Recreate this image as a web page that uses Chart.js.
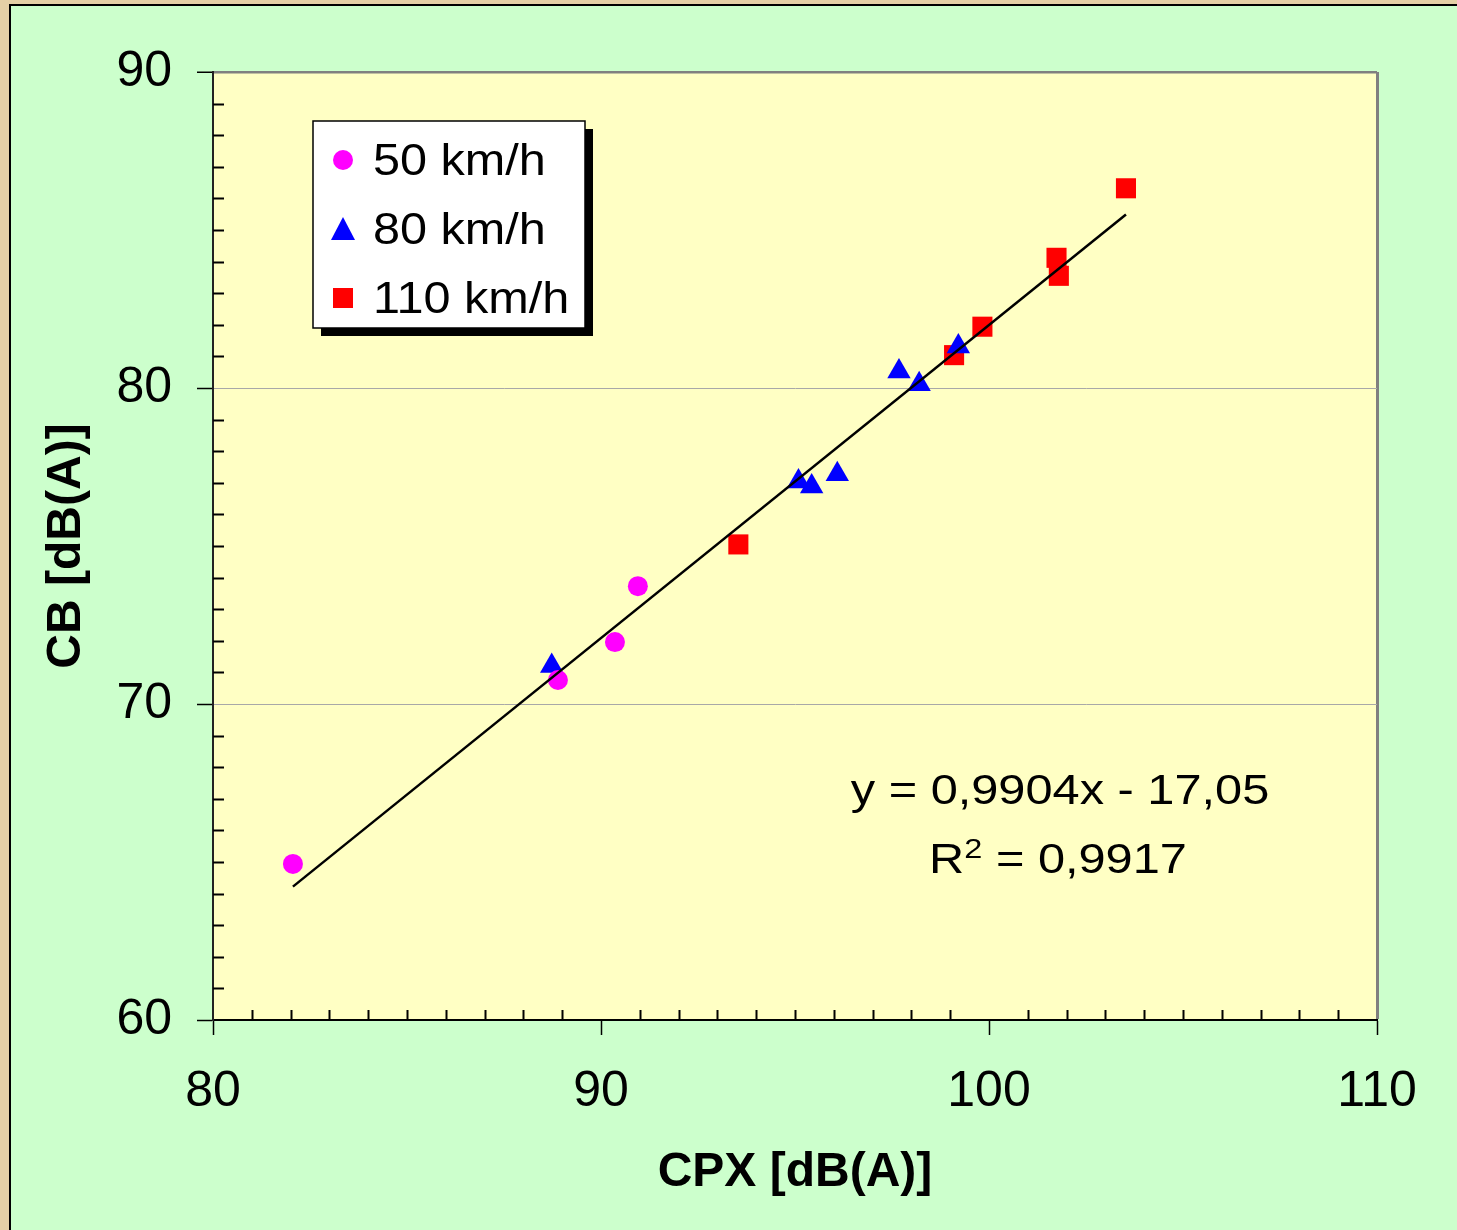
<!DOCTYPE html>
<html>
<head>
<meta charset="utf-8">
<script src="https://cdn.jsdelivr.net/npm/chart.js@4.4.0/dist/chart.umd.min.js"></script>
<style>
  html, body { margin: 0; padding: 0; background: #e4d0a6; }
  canvas { display: block; }
</style>
</head>
<body>
<canvas id="cpxChart" width="1457" height="1230"></canvas>
<script>
const cpx50 = [82.06, 88.89, 90.36, 90.95]
const cb50 = [64.94, 70.76, 71.96, 73.73]

const cpx80 = [88.73, 95.09, 95.43, 96.09, 97.68, 98.20, 99.21]
const cb80 = [71.20, 77.04, 76.88, 77.27, 80.52, 80.12, 81.31]

const cpx110 = [93.54, 99.10, 99.83, 101.74, 101.80, 103.53]
const cb110 = [75.05, 81.04, 81.94, 84.12, 83.55, 86.32]

// regression line end points
const trendX = [82.06, 103.53]
const trendY = [64.22, 85.49]

const seriesLabels = ['50 km/h', '80 km/h', '110 km/h']
const xTicks = [80, 90, 100, 110]
const yTicks = [60, 70, 80, 90]
const equationText = 'y = 0,9904x - 17,05'
const r2Text = ' = 0,9917'

const FONT = "'Liberation Sans', Arial, sans-serif"

const toPoints = (xs, ys) => xs.map((x, i) => ({ x, y: ys[i] }))

// Backgrounds: outer frame, green panel, yellow plot area
const backgroundPlugin = {
  id: 'backgroundPlugin',
  beforeDraw(chart) {
    const { ctx, chartArea } = chart
    ctx.save()
    ctx.fillStyle = '#e4d0a6'
    ctx.fillRect(0, 0, chart.width, chart.height)
    ctx.fillStyle = '#ccffcc'
    ctx.fillRect(10, 5, chart.width, chart.height)
    ctx.strokeStyle = '#000'
    ctx.lineWidth = 2
    ctx.beginPath()
    ctx.moveTo(10, chart.height)
    ctx.lineTo(10, 5)
    ctx.lineTo(chart.width, 5)
    ctx.stroke()
    ctx.fillStyle = '#ffffc4'
    ctx.fillRect(chartArea.left, chartArea.top, chartArea.right - chartArea.left, chartArea.bottom - chartArea.top)
    ctx.restore()
  },
}

// Minor ticks inside the plot, one per unit
const minorTicks = {
  id: 'minorTicks',
  afterDraw(chart) {
    const { ctx, chartArea } = chart
    const xs = chart.scales.x
    const ys = chart.scales.y
    ctx.save()
    ctx.strokeStyle = '#000'
    ctx.lineWidth = 2
    ctx.beginPath()
    for (let v = 61; v < 90; v++) {
      if (v % 10 === 0) continue
      const py = Math.round(ys.getPixelForValue(v)) + 0.5
      ctx.moveTo(chartArea.left, py)
      ctx.lineTo(chartArea.left + 11, py)
    }
    for (let v = 81; v < 110; v++) {
      if (v % 10 === 0) continue
      const px = Math.round(xs.getPixelForValue(v)) + 0.5
      ctx.moveTo(px, chartArea.bottom)
      ctx.lineTo(px, chartArea.bottom - 10)
    }
    ctx.stroke()
    ctx.restore()
  },
}

// text drawn a bit wider than the font, like the original
const wideText = (ctx, text, x, y, sx) => {
  ctx.save()
  ctx.translate(x, y)
  ctx.scale(sx, 1)
  ctx.fillText(text, 0, 0)
  ctx.restore()
}

// Legend box with drop shadow + regression text
const legendAndText = {
  id: 'legendAndText',
  afterDraw(chart) {
    const { ctx } = chart
    ctx.save()

    // legend
    const bx = 313, by = 121, bw = 272, bh = 207
    ctx.fillStyle = '#000'
    ctx.fillRect(bx + 8, by + 8, bw, bh)
    ctx.fillStyle = '#fff'
    ctx.fillRect(bx, by, bw, bh)
    ctx.strokeStyle = '#000'
    ctx.lineWidth = 1.5
    ctx.strokeRect(bx, by, bw, bh)

    const rows = [160, 229, 298]
    const colors = ['#ff00ff', '#0000ff', '#ff0000']
    rows.forEach((ry, i) => {
      ctx.fillStyle = colors[i]
      ctx.beginPath()
      if (i === 0) {
        ctx.arc(343, ry, 10, 0, Math.PI * 2)
      } else if (i === 1) {
        ctx.moveTo(343, ry - 12)
        ctx.lineTo(355, ry + 11)
        ctx.lineTo(331, ry + 11)
        ctx.closePath()
      } else {
        ctx.rect(333, ry - 10, 20, 20)
      }
      ctx.fill()

      ctx.fillStyle = '#000'
      ctx.font = `45px ${FONT}`
      ctx.textAlign = 'left'
      ctx.textBaseline = 'alphabetic'
      wideText(ctx, seriesLabels[i], 373, ry + 15, 1.08)
    })

    // regression equation
    const sx = 1.16
    ctx.fillStyle = '#000'
    ctx.font = `42px ${FONT}`
    ctx.textAlign = 'left'
    const w1 = ctx.measureText(equationText).width * sx
    wideText(ctx, equationText, 1060 - w1 / 2, 804, sx)

    const wR = ctx.measureText('R').width * sx
    const wRest = ctx.measureText(r2Text).width * sx
    ctx.font = `28px ${FONT}`
    const wSup = ctx.measureText('2').width * sx
    const total = wR + wSup + wRest
    const x0 = 1058 - total / 2
    ctx.font = `42px ${FONT}`
    wideText(ctx, 'R', x0, 873, sx)
    ctx.font = `28px ${FONT}`
    wideText(ctx, '2', x0 + wR, 858, sx)
    ctx.font = `42px ${FONT}`
    wideText(ctx, r2Text, x0 + wR + wSup, 873, sx)

    ctx.restore()
  },
}

const ctx = document.getElementById('cpxChart').getContext('2d')

new Chart(ctx, {
  type: 'scatter',
  data: {
    datasets: [
      {
        type: 'line',
        label: 'trend',
        data: toPoints(trendX, trendY),
        borderColor: '#000',
        borderWidth: 2.5,
        pointRadius: 0,
        showLine: true,
        fill: false,
        order: 0,
      },
      {
        label: seriesLabels[0],
        data: toPoints(cpx50, cb50),
        pointStyle: 'circle',
        pointRadius: 10,
        backgroundColor: '#ff00ff',
        borderColor: '#ff00ff',
        borderWidth: 0,
        order: 1,
      },
      {
        label: seriesLabels[1],
        data: toPoints(cpx80, cb80),
        pointStyle: 'triangle',
        pointRadius: 13.5,
        backgroundColor: '#0000ff',
        borderColor: '#0000ff',
        borderWidth: 0,
        order: 1,
      },
      {
        label: seriesLabels[2],
        data: toPoints(cpx110, cb110),
        pointStyle: 'rect',
        pointRadius: 14.2,
        backgroundColor: '#ff0000',
        borderColor: '#ff0000',
        borderWidth: 0,
        order: 1,
      },
    ],
  },
  options: {
    responsive: false,
    animation: false,
    layout: {
      padding: { top: 72, right: 80, left: 0, bottom: 0 },
    },
    plugins: {
      legend: { display: false },
      tooltip: { enabled: false },
    },
    scales: {
      x: {
        type: 'linear',
        min: 80,
        max: 110,
        afterFit(scale) { scale.height = 210 },
        afterBuildTicks(scale) { scale.ticks = xTicks.map((v) => ({ value: v })) },
        ticks: {
          color: '#000',
          font: { family: FONT, size: 50 },
          padding: 27,
          maxRotation: 0,
        },
        grid: {
          color: (c) => (c.tick && c.tick.value === 110 ? '#808080' : 'rgba(0,0,0,0)'),
          lineWidth: (c) => (c.tick && c.tick.value === 110 ? 3 : 1),
          tickColor: '#000',
          tickLength: 15,
          tickWidth: 1.5,
        },
        border: { color: '#000', width: 2 },
        title: {
          display: true,
          text: 'CPX [dB(A)]',
          color: '#000',
          font: { family: FONT, size: 48, weight: 'bold' },
          padding: { top: 0, bottom: 28 },
        },
      },
      y: {
        type: 'linear',
        min: 60,
        max: 90,
        afterFit(scale) { scale.width = 213 },
        afterBuildTicks(scale) { scale.ticks = yTicks.map((v) => ({ value: v })) },
        ticks: {
          color: '#000',
          font: { family: FONT, size: 50 },
          padding: 25,
        },
        grid: {
          color: (c) => {
            const v = c.tick && c.tick.value
            if (v === 90) return '#808080'
            if (v === 70 || v === 80) return '#a8a8a8'
            return 'rgba(0,0,0,0)'
          },
          lineWidth: (c) => (c.tick && c.tick.value === 90 ? 2.5 : 1),
          tickColor: '#000',
          tickLength: 16,
          tickWidth: 1.5,
        },
        border: { color: '#222', width: 2 },
        title: {
          display: true,
          text: 'CB [dB(A)]',
          color: '#000',
          font: { family: FONT, size: 48, weight: 'bold' },
          padding: { top: 38, bottom: 0 },
        },
      },
    },
  },
  plugins: [backgroundPlugin, minorTicks, legendAndText],
})
</script>
</body>
</html>
